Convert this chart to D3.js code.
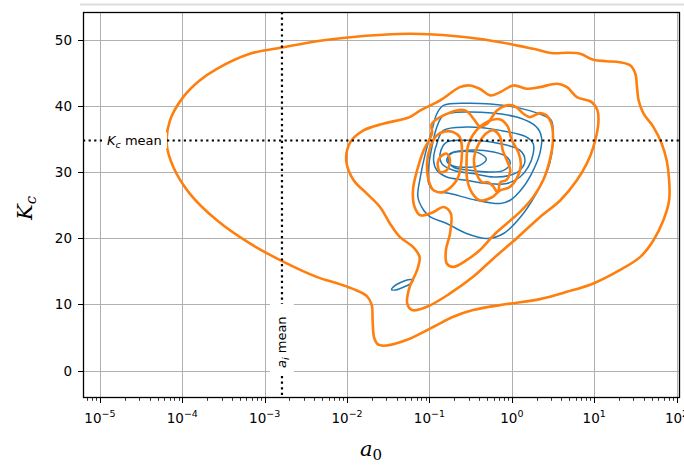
<!DOCTYPE html>
<html><head><meta charset="utf-8">
<script src="https://cdn.jsdelivr.net/npm/d3@7"></script>
<style>body{margin:0;background:#fff}svg{display:block}</style>
</head><body><svg id="chart" width="684" height="465"></svg>
<script>
// Axis ticks
const xTickExps = [-5, -4, -3, -2, -1, 0, 1, 2];
const yTicks = [0, 10, 20, 30, 40, 50];
const xDomainExp = [-5.206, 2.042];
const yDomain = [-4.16, 54.24];

// Means of the two parameters
const aiMean = 1.62e-3;
const kcMean = 34.8;

// KDE contour levels, points given as [log10(a0), Kc]
const orangeOuter = [[-4.19,34.32],[-4.15,37.84],[-3.99,41.36],[-3.79,43.88],[-3.58,45.65],[-3.18,47.92],[-2.77,48.91],[-2.37,49.82],[-1.96,50.42],[-1.56,50.79],[-1.24,50.94],[-0.95,50.83],[-0.55,50.42],[-0.14,49.67],[0.26,48.67],[0.50,48.01],[0.67,48.07],[0.83,47.92],[0.99,47.01],[1.15,46.80],[1.31,46.65],[1.44,46.15],[1.50,44.90],[1.52,42.87],[1.54,40.86],[1.60,38.85],[1.72,36.83],[1.82,34.32],[1.88,31.80],[1.91,28.78],[1.91,25.76],[1.84,22.73],[1.72,19.71],[1.56,17.19],[1.31,15.18],[0.99,13.17],[0.67,11.90],[0.34,10.80],[-0.06,10.05],[-0.47,9.14],[-0.71,8.13],[-0.95,6.62],[-1.28,4.61],[-1.52,3.78],[-1.62,3.90],[-1.67,4.91],[-1.69,7.63],[-1.70,9.89],[-1.76,11.25],[-1.92,12.31],[-2.09,13.07],[-2.37,14.17],[-2.77,16.44],[-3.18,19.22],[-3.58,22.73],[-3.91,26.77],[-4.11,30.79]];
const orangeMid = [[-2.01,31.80],[-1.96,34.56],[-1.80,36.33],[-1.56,37.34],[-1.24,38.34],[-1.11,39.35],[-0.87,40.86],[-0.63,42.87],[-0.51,43.13],[-0.39,42.63],[-0.26,41.62],[-0.14,42.12],[0.02,43.13],[0.18,42.63],[0.34,42.87],[0.55,43.38],[0.67,42.87],[0.79,41.36],[0.97,40.61],[1.04,39.35],[1.05,37.34],[0.99,33.81],[0.91,31.30],[0.79,28.78],[0.59,25.76],[0.34,23.19],[0.06,20.02],[-0.22,16.99],[-0.47,14.17],[-0.75,11.66],[-1.03,9.64],[-1.21,9.14],[-1.27,10.15],[-1.24,12.66],[-1.15,15.18],[-1.12,17.19],[-1.20,18.70],[-1.36,20.21],[-1.48,22.24],[-1.60,24.74],[-1.76,26.77],[-1.92,28.78]];
const orangeInner = [[-0.97,37.34],[-0.67,39.35],[-0.55,39.25],[-0.45,37.84],[-0.39,36.93],[-0.30,37.34],[-0.18,39.35],[-0.06,40.11],[0.04,39.96],[0.14,38.85],[0.22,38.34],[0.34,38.94],[0.42,38.60],[0.48,37.34],[0.50,34.82],[0.46,31.80],[0.38,28.78],[0.26,26.25],[0.10,23.99],[-0.06,22.24],[-0.22,20.47],[-0.39,18.20],[-0.55,16.69],[-0.71,15.68],[-0.79,16.19],[-0.80,18.20],[-0.75,20.73],[-0.74,23.75],[-0.83,24.74],[-0.95,23.99],[-1.11,23.49],[-1.18,24.74],[-1.20,27.27],[-1.15,30.29],[-1.07,33.31],[-0.97,35.83]];
const orangeLeftLobe = [[-0.91,35.57],[-0.81,36.18],[-0.71,36.07],[-0.63,35.27],[-0.61,31.80],[-0.67,28.78],[-0.83,27.01],[-0.95,27.27],[-1.01,28.78],[-1.03,31.30],[-0.99,33.81]];
const orangeLeftCore = [[-0.87,32.30],[-0.79,32.81],[-0.75,31.80],[-0.79,30.29],[-0.87,30.03],[-0.90,31.35]];
const orangeRightLobe = [[-0.55,31.04],[-0.53,34.07],[-0.43,36.33],[-0.29,37.69],[-0.14,37.99],[-0.05,36.93],[0.00,34.82],[0.08,33.01],[0.11,31.04],[0.06,29.08],[-0.03,27.72],[-0.14,27.27],[-0.24,26.21],[-0.39,25.76],[-0.48,26.81],[-0.54,28.78]];
const orangeRightCore = [[-0.46,31.80],[-0.41,34.07],[-0.31,35.88],[-0.22,36.33],[-0.14,35.27],[-0.11,33.31],[-0.06,31.80],[-0.02,30.29],[-0.07,28.78],[-0.14,28.47],[-0.17,26.96],[-0.23,27.92],[-0.29,28.47],[-0.36,28.47],[-0.42,29.53]];

const blue1 = [[-0.83,40.11],[-0.55,40.45],[-0.02,39.96],[0.38,38.60],[0.48,37.84],[0.50,34.82],[0.46,31.30],[0.34,27.77],[0.14,23.75],[-0.10,20.73],[-0.30,19.97],[-0.55,20.73],[-0.79,22.24],[-0.99,23.23],[-1.07,24.25],[-1.14,26.25],[-1.11,29.28],[-1.05,32.81],[-0.97,36.33],[-0.91,38.85]];
const blue2 = [[-0.83,38.60],[-0.55,39.10],[0.06,38.34],[0.30,36.83],[0.36,35.32],[0.34,32.81],[0.26,30.29],[0.14,27.77],[-0.02,25.76],[-0.14,25.26],[-0.43,25.76],[-0.75,26.77],[-0.95,27.27],[-1.01,28.28],[-1.01,30.79],[-0.97,33.81],[-0.91,36.83]];
const blue3 = [[-0.83,36.33],[-0.55,36.83],[-0.14,36.33],[0.18,35.32],[0.26,34.32],[0.26,32.81],[0.20,30.79],[0.10,29.28],[-0.06,28.28],[-0.30,28.28],[-0.55,28.78],[-0.79,29.28],[-0.91,30.29],[-0.95,31.80],[-0.91,34.32]];
const blue4 = [[-0.79,34.56],[-0.55,34.82],[-0.14,34.32],[0.10,33.31],[0.16,31.80],[0.10,30.29],[-0.02,29.53],[-0.22,29.28],[-0.47,29.79],[-0.71,30.29],[-0.85,31.30],[-0.87,32.81]];
const blue5 = [[-0.75,32.81],[-0.55,33.31],[-0.22,33.05],[-0.06,32.30],[-0.02,31.30],[-0.10,30.29],[-0.26,30.03],[-0.51,30.29],[-0.71,30.79],[-0.77,31.80]];
const blue6 = [[-0.79,31.80],[-0.73,32.86],[-0.56,33.16],[-0.39,32.86],[-0.31,31.95],[-0.39,31.04],[-0.56,30.74],[-0.73,31.04]];
const blueIsland = [[-1.46,12.24],[-1.42,12.84],[-1.35,13.32],[-1.26,13.72],[-1.20,13.75],[-1.22,13.22],[-1.30,12.69],[-1.41,12.19]];

const blueContours = [blue1, blue2, blue3, blue4, blue5, blue6, blueIsland];
const orangeContours = [orangeOuter, orangeMid, orangeInner, orangeLeftLobe, orangeLeftCore, orangeRightLobe, orangeRightCore];

const svg = d3.select('#chart');
const W = 684, H = 465;
const m = {left: 83, right: 680, top: 12, bottom: 398};

const x = d3.scaleLog().domain(xDomainExp.map(e => Math.pow(10, e))).range([m.left, m.right]);
const y = d3.scaleLinear().domain(yDomain).range([m.bottom, m.top]);

// faint rule along the top of the figure
svg.append('line').attr('x1', 80).attr('x2', W).attr('y1', 4.5).attr('y2', 4.5)
  .attr('stroke', '#dcdcdc').attr('stroke-width', 2);

svg.append('defs').append('clipPath').attr('id', 'plot')
  .append('rect').attr('x', m.left).attr('y', m.top).attr('width', m.right - m.left).attr('height', m.bottom - m.top);

// grid
const grid = svg.append('g').attr('stroke', '#b0b0b0').attr('stroke-width', 1);
xTickExps.forEach(e => {
  const px = Math.round(x(Math.pow(10, e))) + 0.5;
  grid.append('line').attr('x1', px).attr('x2', px).attr('y1', m.top).attr('y2', m.bottom);
});
yTicks.forEach(v => {
  const py = Math.round(y(v)) + 0.5;
  grid.append('line').attr('x1', m.left).attr('x2', m.right).attr('y1', py).attr('y2', py);
});

const plot = svg.append('g').attr('clip-path', 'url(#plot)');
const line = d3.line()
  .x(d => x(Math.pow(10, d[0])))
  .y(d => y(d[1]))
  .curve(d3.curveCatmullRomClosed.alpha(0.5));

plot.selectAll('path.blue').data(blueContours).join('path')
  .attr('class', 'blue').attr('d', line)
  .attr('fill', 'none').attr('stroke', '#1f77b4').attr('stroke-width', 1.5).attr('stroke-linejoin', 'round');
plot.selectAll('path.orange').data(orangeContours).join('path')
  .attr('class', 'orange').attr('d', line)
  .attr('fill', 'none').attr('stroke', '#ff7f0e').attr('stroke-width', 2.6).attr('stroke-linejoin', 'round');

// mean lines
const mx = x(aiMean), my = y(kcMean);
plot.append('line').attr('x1', mx).attr('x2', mx).attr('y1', m.top).attr('y2', m.bottom)
  .attr('stroke', '#000').attr('stroke-width', 2.2).attr('stroke-dasharray', '2.2,3.4');
plot.append('line').attr('x1', m.left).attr('x2', m.right).attr('y1', my).attr('y2', my)
  .attr('stroke', '#000').attr('stroke-width', 2.2).attr('stroke-dasharray', '2.2,3.4');

// mean labels on white boxes
const kcLab = svg.append('g').attr('transform', `translate(103,${my})`);
kcLab.append('rect').attr('x', 0).attr('y', -8).attr('width', 64).attr('height', 16).attr('fill', '#fff');
const kt = kcLab.append('text').attr('x', 4).attr('y', 4.5)
  .attr('font-family', 'DejaVu Sans').attr('font-size', 13).attr('fill', '#000');
kt.append('tspan').attr('font-style', 'italic').text('K');
kt.append('tspan').attr('font-style', 'italic').attr('font-size', 9.5).attr('dy', 3).text('c');
kt.append('tspan').attr('dy', -3).text(' mean');

const aiLab = svg.append('g').attr('transform', `translate(${mx},374) rotate(-90)`);
aiLab.append('rect').attr('x', 0).attr('y', -12).attr('width', 70).attr('height', 24).attr('fill', '#fff');
const at = aiLab.append('text').attr('x', 6).attr('y', 4.5)
  .attr('font-family', 'DejaVu Sans').attr('font-size', 13).attr('fill', '#000');
at.append('tspan').attr('font-style', 'italic').text('a');
at.append('tspan').attr('font-style', 'italic').attr('font-size', 9.5).attr('dy', 3).text('i');
at.append('tspan').attr('dy', -3).text(' mean');

// spines
svg.append('rect').attr('x', m.left + 0.5).attr('y', m.top + 0.5)
  .attr('width', m.right - m.left - 1).attr('height', m.bottom - m.top - 1)
  .attr('fill', 'none').attr('stroke', '#000').attr('stroke-width', 1.3);

// x ticks (major + log minor)
const ticks = svg.append('g').attr('stroke', '#000').attr('stroke-width', 1);
for (let e = -6; e <= 2; e++) {
  for (let k = 1; k <= 9; k++) {
    const v = k * Math.pow(10, e);
    const px = x(v);
    if (px < m.left - 0.5 || px > m.right + 0.5) continue;
    const len = k === 1 ? 5 : 2.8;
    const xx = Math.round(px) + 0.5;
    ticks.append('line').attr('x1', xx).attr('x2', xx).attr('y1', m.bottom).attr('y2', m.bottom + len)
      .attr('stroke-width', k === 1 ? 1 : 0.8);
  }
}
yTicks.forEach(v => {
  const py = Math.round(y(v)) + 0.5;
  ticks.append('line').attr('x1', m.left - 5).attr('x2', m.left).attr('y1', py).attr('y2', py);
});

const labels = svg.append('g').attr('font-family', 'DejaVu Sans').attr('fill', '#000');
xTickExps.forEach(e => {
  const t = labels.append('text').attr('x', x(Math.pow(10, e))).attr('y', 423)
    .attr('text-anchor', 'middle').attr('font-size', 13.5);
  t.append('tspan').text('10');
  t.append('tspan').attr('font-size', 9.5).attr('dy', -6.5).text(e < 0 ? '\u2212' + Math.abs(e) : String(e));
});
yTicks.forEach(v => {
  labels.append('text').attr('x', 72).attr('y', y(v) + 5)
    .attr('text-anchor', 'end').attr('font-size', 13.5).text(v);
});

// axis titles
const xt = svg.append('text').attr('x', 371).attr('y', 456).attr('text-anchor', 'middle')
  .attr('font-family', 'DejaVu Serif').attr('font-size', 21).attr('fill', '#000');
xt.append('tspan').attr('font-style', 'italic').text('a');
xt.append('tspan').attr('font-size', 15).attr('dy', 4).text('0');

const yt = svg.append('text').attr('transform', 'translate(32,208) rotate(-90)').attr('text-anchor', 'middle')
  .attr('font-family', 'DejaVu Serif').attr('font-size', 21).attr('fill', '#000');
yt.append('tspan').attr('font-style', 'italic').text('K');
yt.append('tspan').attr('font-style', 'italic').attr('font-size', 15).attr('dy', 4).text('c');
</script></body></html>
